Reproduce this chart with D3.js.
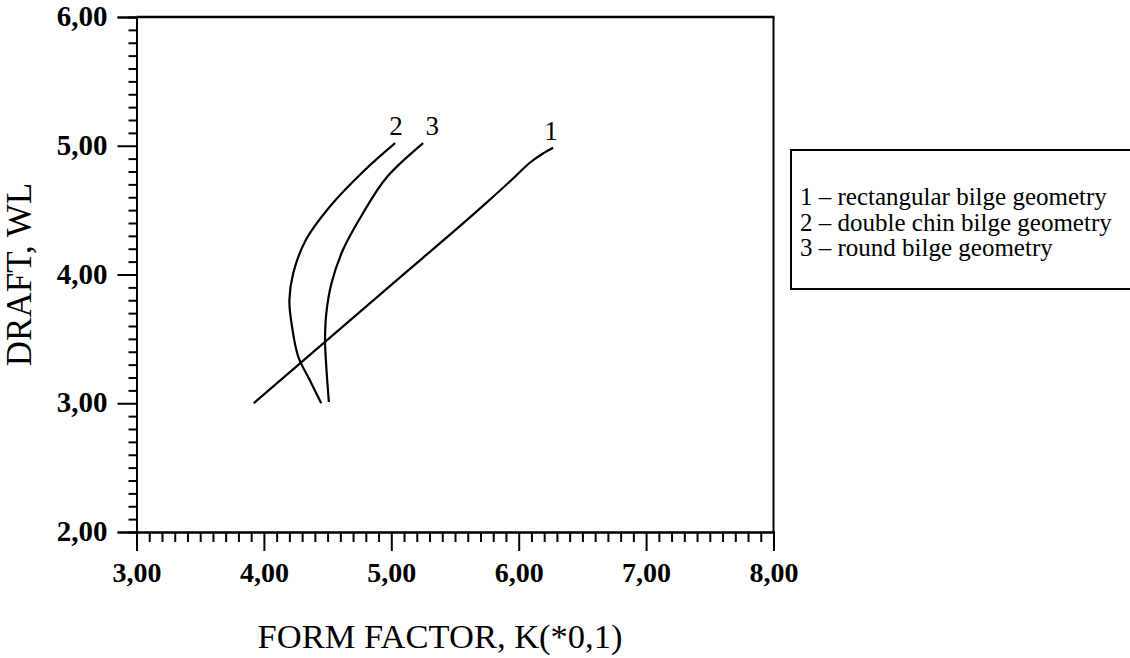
<!DOCTYPE html>
<html>
<head>
<meta charset="utf-8">
<script src="https://cdn.jsdelivr.net/npm/d3@7"></script>
<style>
  html, body { margin: 0; padding: 0; background: #fff; }
  svg { display: block; }
  text { font-family: "Liberation Serif", "Times New Roman", serif; fill: #000; }
</style>
</head>
<body>
<svg id="chart" width="1130" height="658"></svg>
<script>
// ---- data ----
const xMajorTicks = [3, 4, 5, 6, 7, 8];
const yMajorTicks = [2, 3, 4, 5, 6];
const xTitle = "FORM FACTOR, K(*0,1)";
const yTitle = "DRAFT, WL";

const seriesIds = ["1", "2", "3"];
const legendLabels = [
  "1 \u2013 rectangular bilge geometry",
  "2 \u2013 double chin bilge geometry",
  "3 \u2013 round bilge geometry"
];
// curve 1: rectangular bilge geometry  [formFactor, draft]
const rectangularK = [3.92, 5.00, 5.75, 5.95, 6.09, 6.19, 6.27];
const rectangularT = [3.00, 3.92, 4.56, 4.74, 4.87, 4.94, 4.985];
// curve 2: double chin bilge geometry
const doubleChinK = [4.45, 4.36, 4.27, 4.22, 4.20, 4.23, 4.33, 4.52, 4.78, 5.03];
const doubleChinT = [3.00, 3.18, 3.36, 3.60, 3.80, 4.01, 4.27, 4.53, 4.80, 5.02];
// curve 3: round bilge geometry
const roundK = [4.51, 4.49, 4.48, 4.49, 4.53, 4.62, 4.78, 4.96, 5.25];
const roundT = [3.01, 3.28, 3.49, 3.70, 3.93, 4.19, 4.48, 4.75, 5.02];

// ---- layout ----
const svg = d3.select("#chart");
const L = 136.5, R = 773.5, T = 17, B = 532;
const x = d3.scaleLinear().domain([3, 8]).range([L, R]);
const y = d3.scaleLinear().domain([2, 6]).range([B, T]);
const locale = d3.formatLocale({ decimal: ",", thousands: ".", grouping: [3], currency: ["", ""] });
const fmt = locale.format(".2f");

const minorX = d3.range(30, 81).map(v => v / 10).filter(v => !xMajorTicks.includes(v));
const minorY = d3.range(20, 61).map(v => v / 10).filter(v => !yMajorTicks.includes(v));

// frame (top & right)
svg.append("line").attr("x1", L).attr("x2", R + 1).attr("y1", T).attr("y2", T)
  .attr("stroke", "#000").attr("stroke-width", 2.5);
svg.append("line").attr("x1", R).attr("x2", R).attr("y1", T).attr("y2", B)
  .attr("stroke", "#000").attr("stroke-width", 2);

function styleAxis(g, fs, weight) {
  g.attr("font-family", null);
  g.select(".domain").attr("stroke", "#000").attr("stroke-width", 2);
  g.selectAll(".tick line").attr("stroke", "#000").attr("stroke-width", 2);
  g.selectAll(".tick text").style("font-family", '"Liberation Serif", serif')
    .style("font-size", fs + "px").style("font-weight", weight).attr("fill", "#000");
}

// y axis minor
const gyMinor = svg.append("g").attr("transform", `translate(${L},0)`)
  .call(d3.axisLeft(y).tickValues(minorY).tickSize(8).tickFormat(""));
styleAxis(gyMinor, 10, "normal");
// y axis major
const gy = svg.append("g").attr("transform", `translate(${L},0)`)
  .call(d3.axisLeft(y).tickValues(yMajorTicks).tickSize(19).tickPadding(10).tickFormat(fmt));
styleAxis(gy, 29, "bold");
gy.selectAll(".tick text").attr("dy", "0.3em");

// x axis minor
const gxMinor = svg.append("g").attr("transform", `translate(0,${B})`)
  .call(d3.axisBottom(x).tickValues(minorX).tickSize(10).tickFormat(""));
styleAxis(gxMinor, 10, "normal");
// x axis major
const gx = svg.append("g").attr("transform", `translate(0,${B})`)
  .call(d3.axisBottom(x).tickValues(xMajorTicks).tickSize(19).tickPadding(11).tickFormat(fmt));
styleAxis(gx, 28, "bold");

// titles
svg.append("text").attr("x", 440).attr("y", 648)
  .attr("text-anchor", "middle").style("font-size", "34.5px").text(xTitle);
svg.append("text").attr("transform", `translate(31,${(T + B) / 2}) rotate(-90)`)
  .attr("text-anchor", "middle").style("font-size", "35px").text(yTitle);

// curves
const series = [
  { id: seriesIds[0], k: rectangularK, t: rectangularT, curve: d3.curveMonotoneX, dx: -2 },
  { id: seriesIds[1], k: doubleChinK, t: doubleChinT, curve: d3.curveCatmullRom.alpha(0.5), dx: 1 },
  { id: seriesIds[2], k: roundK, t: roundT, curve: d3.curveCatmullRom.alpha(0.5), dx: 9 }
];
series.forEach(s => {
  const pts = s.k.map((k, i) => [k, s.t[i]]);
  const line = d3.line().x(d => x(d[0])).y(d => y(d[1])).curve(s.curve);
  svg.append("path").attr("d", line(pts)).attr("fill", "none")
    .attr("stroke", "#000").attr("stroke-width", 2.2);
  const end = pts[pts.length - 1];
  svg.append("text").attr("x", x(end[0]) + s.dx).attr("y", y(end[1]) - 8)
    .attr("text-anchor", "middle").style("font-size", "27px").text(s.id);
});

// legend box
const lg = svg.append("g");
lg.append("path").attr("d", `M1135,150 H791 V289 H1135`).attr("fill", "none")
  .attr("stroke", "#000").attr("stroke-width", 2);
legendLabels.forEach((t, i) => {
  lg.append("text").attr("x", 800).attr("y", 205 + i * 25.5)
    .style("font-size", "25px").text(t);
});
</script>
</body>
</html>
